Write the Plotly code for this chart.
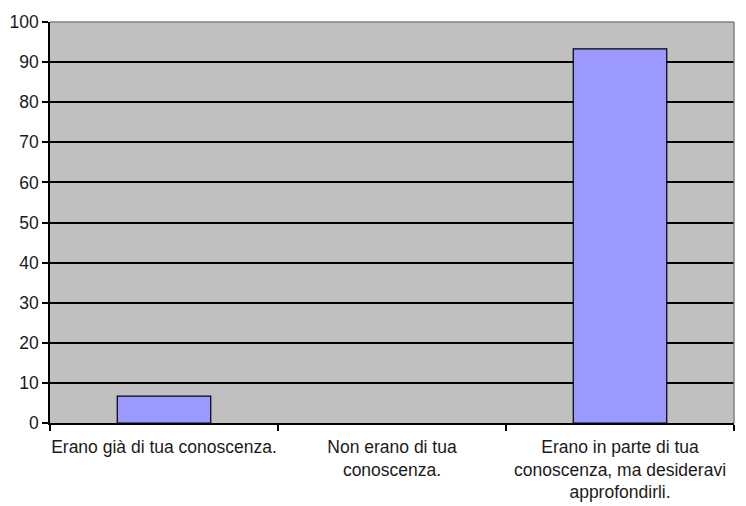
import plotly.graph_objects as go

categories = [
    "Erano già di tua conoscenza.",
    "Non erano di tua<br>conoscenza.",
    "Erano in parte di tua<br>conoscenza, ma desideravi<br>approfondirli.",
]
values = [6.7, 0, 93.3]
y_ticks = [0, 10, 20, 30, 40, 50, 60, 70, 80, 90, 100]

fig = go.Figure()
fig.add_trace(go.Bar(
    x=categories, y=values,
    marker=dict(color="#9999FF",
                line=dict(color="black", width=[1.2 if v > 0 else 0 for v in values])),
    width=0.41,
))

fig.update_layout(
    width=746, height=506,
    margin=dict(l=50, r=12, t=22, b=83),
    paper_bgcolor="white",
    plot_bgcolor="#C0C0C0",
    showlegend=False,
    font=dict(family="Liberation Sans, Arial, sans-serif", size=17, color="#1a1a1a"),
    xaxis=dict(
        type="category",
        automargin=False,
        tickangle=0,
        tickson="boundaries",
        ticks="outside", ticklen=6, tickcolor="black", tickwidth=1.5,
        ticklabelstandoff=7,
        showline=True, linecolor="black", linewidth=1.5,
        showgrid=False,
        tickfont=dict(size=17.5),
    ),
    yaxis=dict(
        range=[0, 100],
        automargin=False,
        tickvals=y_ticks,
        ticks="outside", ticklen=6, tickcolor="black", tickwidth=1.5,
        showline=True, linecolor="black", linewidth=1.5,
        showgrid=True, gridcolor="black", gridwidth=1.5,
        zeroline=False,
        tickfont=dict(size=17.5),
    ),
    shapes=[
        dict(type="line", xref="paper", yref="paper", x0=1, x1=1, y0=0, y1=1,
             line=dict(color="#808080", width=1.5)),
        dict(type="line", xref="paper", yref="paper", x0=0, x1=1, y0=1, y1=1,
             line=dict(color="#808080", width=1.5)),
    ],
)

fig.write_html("out.html", config={"displayModeBar": False},
               post_script="document.body.style.margin='0';")
